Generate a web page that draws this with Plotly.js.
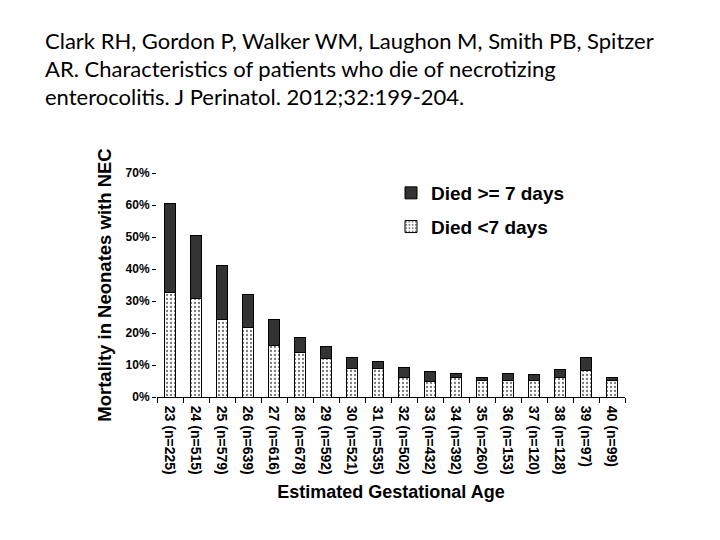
<!DOCTYPE html>
<html>
<head>
<meta charset="utf-8">
<script src="https://cdn.plot.ly/plotly-3.0.1.min.js"></script>
<style>html,body{margin:0;padding:0;background:#fff;}#chart{width:720px;height:540px;}</style>
</head>
<body>
<div id="chart"></div>
<script>
const categories = ["23 (n=225)","24 (n=515)","25 (n=579)","26 (n=639)","27 (n=616)","28 (n=678)","29 (n=592)","30 (n=521)","31 (n=535)","32 (n=502)","33 (n=432)","34 (n=392)","35 (n=260)","36 (n=153)","37 (n=120)","38 (n=128)","39 (n=97)","40 (n=99)"];
// Mortality (%) died < 7 days
const diedEarly = [32.8, 30.7, 24.2, 21.8, 16.0, 13.8, 11.9, 8.9, 8.9, 6.1, 5.0, 6.1, 5.2, 5.2, 5.2, 6.2, 8.2, 5.2];
const totalMort = [60.6, 50.6, 41.2, 31.9, 24.1, 18.7, 15.9, 12.5, 11.0, 9.1, 7.9, 7.5, 6.2, 7.2, 6.9, 8.7, 12.2, 6.2];
const diedLate = totalMort.map((t, i) => +(t - diedEarly[i]).toFixed(1));
const yTickVals = [0, 10, 20, 30, 40, 50, 60, 70];
const yTickText = ["0%", "10%", "20%", "30%", "40%", "50%", "60%", "70%"];
const titleLines = [
  "Clark RH, Gordon P, Walker WM, Laughon M, Smith PB, Spitzer",
  "AR. Characteristics of patients who die of necrotizing",
  "enterocolitis. J Perinatol. 2012;32:199-204."
];

const ml = 157, mr = 95, mt = 173, mb = 143;
const pw = 720 - ml - mr, ph = 540 - mt - mb;
const px2x = p => (p - ml) / pw;
const py2y = p => 1 - (p - mt) / ph;

const traces = [
  {
    type: "bar", x: categories, y: diedEarly, name: "Died <7 days",
    legendgroup: "a", legendrank: 2,
    marker: {color: "#ffffff", line: {color: "#000", width: 1},
      pattern: {shape: ".", fgcolor: "#777", bgcolor: "#fff", size: 4, solidity: 0.25}}
  },
  {
    type: "bar", x: categories, y: diedLate, name: "Died >= 7 days",
    legendgroup: "b", legendrank: 1,
    marker: {color: "#333333", line: {color: "#000", width: 1}}
  }
];

const font = "Liberation Sans, Arial, sans-serif";
const layout = {
  width: 720, height: 540,
  margin: {l: ml, r: mr, t: mt, b: mb},
  paper_bgcolor: "#fff", plot_bgcolor: "#fff",
  barmode: "stack", bargap: 0.58,
  showlegend: true,
  legend: {x: px2x(391), y: py2y(174), xanchor: "left", yanchor: "top",
    font: {family: font, size: 19, color: "#000", weight: "bold"},
    traceorder: "grouped", tracegroupgap: 6, bgcolor: "rgba(0,0,0,0)"},
  xaxis: {
    type: "category", tickangle: 90, showline: true, linecolor: "#000", linewidth: 1,
    ticks: "outside", tickson: "boundaries", ticklen: 5, tickcolor: "#000",
    ticklabelstandoff: 5,
    tickfont: {family: font, size: 14, color: "#000", weight: "bold"},
    showgrid: false, zeroline: false,
    title: {text: "Estimated Gestational Age", standoff: 11,
      font: {family: font, size: 18, color: "#000", weight: "bold"}}
  },
  yaxis: {
    range: [0, 70], tickvals: yTickVals, ticktext: yTickText,
    showline: false, showgrid: false, zeroline: false,
    ticks: "outside", ticklen: 4, tickcolor: "#000",
    tickfont: {family: font, size: 12, color: "#000", weight: "bold"},
    title: {text: "Mortality in Neonates with NEC", standoff: 9,
      font: {family: font, size: 18.5, color: "#000", weight: "bold"}}
  },
  annotations: titleLines.map((t, i) => ({
    text: t, xref: "paper", yref: "paper", x: px2x(43), y: py2y(40 + i * 28.5),
    xanchor: "left", yanchor: "middle", showarrow: false,
    font: {family: "Lato, sans-serif", size: 22, color: "#000"}
  }))
};

Plotly.newPlot("chart", traces, layout, {displayModeBar: false, staticPlot: true});
</script>
</body>
</html>
